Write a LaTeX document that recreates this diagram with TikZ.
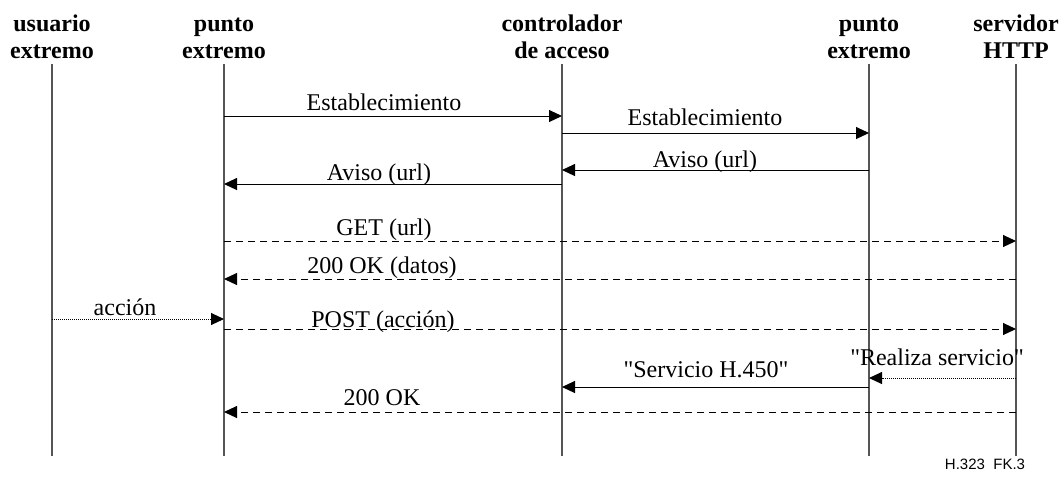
\documentclass[tikz,border=0pt]{standalone}
\usepackage{fontspec}
\setmainfont{Liberation Serif}[Ligatures=TeXOff]
\newfontfamily\figsans{Liberation Sans}
\usetikzlibrary{arrows.meta}
\definecolor{lifegray}{HTML}{555555}

\begin{document}
\begin{tikzpicture}[x=0.5pt,y=-0.5pt,
  lifeline/.style={line width=1pt,lifegray},
  msg/.style={line width=0.5pt,-{Triangle[length=6.5pt,width=6pt]}},
  ret/.style={msg,dash pattern=on 3.5pt off 2.5pt},
  local/.style={msg,dash pattern=on 0.5pt off 0.5pt},
  lbl/.style={anchor=base,inner sep=0pt,font=\fontsize{12}{14}\selectfont},
  head/.style={anchor=base,inner sep=0pt,align=center,font=\fontsize{12}{13.5}\selectfont\bfseries}]
\useasboundingbox (0,0) rectangle (1060,479);
\foreach \x/\nm/\hd in {52/ue/{usuario\\extremo},224/pe/{punto\\extremo},562/ca/{controlador\\de acceso},869/pf/{punto\\extremo},1016/hs/{servidor\\HTTP}}{
  \node[head] (\nm-hd) at (\x,58) {\hd};
  \coordinate (\nm) at (\x,64);
  \coordinate (\nm-end) at (\x,456);
  \draw[lifeline] (\nm) -- (\nm-end);
}
\foreach \y/\a/\b/\st/\lx/\ly/\txt [count=\i] in {
  116/pe/ca/msg/384/110/Establecimiento,
  133/ca/pf/msg/705/125/Establecimiento,
  170/pf/ca/msg/705/167/Aviso (url),
  184/ca/pe/msg/379/180/Aviso (url),
  241/pe/hs/ret/384/235/GET (url),
  279/hs/pe/ret/382/273/200 OK (datos),
  319/ue/pe/local/125/315/acción,
  329/pe/hs/ret/383/327/POST (acción),
  378/hs/pf/local/937/365/"Realiza servicio",
  387/pf/ca/msg/706/377/"Servicio H.450",
  412/hs/pe/ret/382/405/200 OK}{
  \draw[\st] (\a |- 0,\y) -- (\b |- 0,\y);
  \node[lbl] (m\i) at (\lx,\ly) {\txt};
}
\node[anchor=base,inner sep=0pt,font=\figsans\fontsize{7.5}{9}\selectfont] (fig) at (985,469) {H.323\ \ FK.3};
\end{tikzpicture}
\end{document}
